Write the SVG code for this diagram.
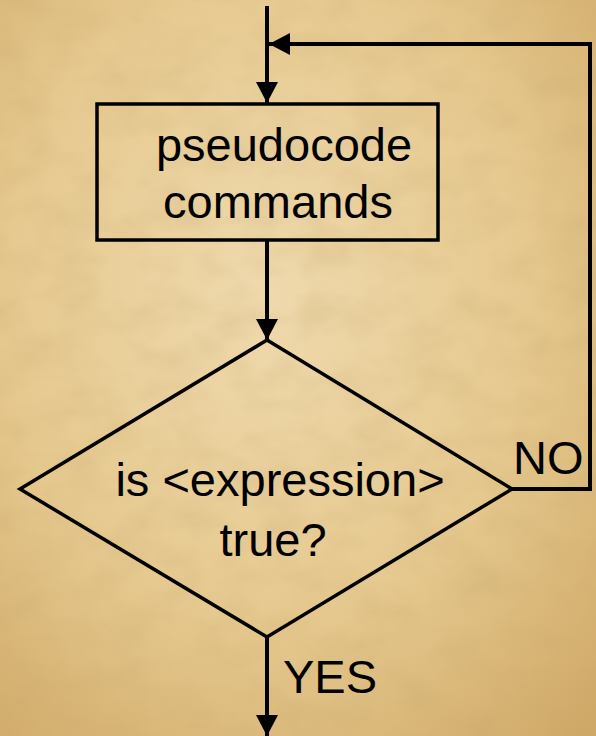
<svg xmlns="http://www.w3.org/2000/svg" width="596" height="736" viewBox="0 0 596 736">
  <defs>
    <radialGradient id="paper" cx="0.45" cy="0.4" r="0.8">
      <stop offset="0" stop-color="#efd9ad"/>
      <stop offset="0.55" stop-color="#e6c98f"/>
      <stop offset="1" stop-color="#cfa866"/>
    </radialGradient>
    <filter id="grain" x="0" y="0" width="100%" height="100%">
      <feTurbulence type="fractalNoise" baseFrequency="0.02 0.03" numOctaves="3" seed="7" result="n"/>
      <feColorMatrix in="n" type="matrix" values="0 0 0 0 0.55  0 0 0 0 0.38  0 0 0 0 0.15  0 0 0 0.9 -0.35"/>
    </filter>
    <marker id="arrow" markerWidth="22" markerHeight="22" refX="21" refY="11" orient="auto" markerUnits="userSpaceOnUse">
      <path d="M0,0 L21,11 L0,22 Z" fill="#000"/>
    </marker>
    <style>
      .shape { fill: none; stroke: #000; stroke-width: 3.5; }
      .wire { fill: none; stroke: #000; stroke-width: 4; }
      .label { font-family: "Liberation Sans", Arial, sans-serif; font-size: 47px; fill: #000; }
    </style>
  </defs>

  <!-- aged paper background -->
  <rect width="596" height="736" fill="url(#paper)"/>
  <rect width="596" height="736" filter="url(#grain)" opacity="0.5"/>

  <g id="connectors">
    <line class="wire" x1="267" y1="6" x2="267" y2="103" marker-end="url(#arrow)"/>
    <line class="wire" x1="267" y1="240" x2="267" y2="340" marker-end="url(#arrow)"/>
    <polyline class="wire" points="512,489 590,489 590,44 269,44" marker-end="url(#arrow)"/>
    <line class="wire" x1="267" y1="637" x2="267" y2="736" marker-end="url(#arrow)"/>
    <text class="label" x="513" y="474">NO</text>
    <text class="label" x="283" y="693">YES</text>
  </g>

  <g id="process">
    <rect class="shape" x="97" y="104" width="341" height="136"/>
    <text class="label" x="284" y="161" text-anchor="middle">pseudocode</text>
    <text class="label" x="278" y="218" text-anchor="middle">commands</text>
  </g>

  <g id="decision">
    <polygon class="shape" points="267,340 512,489 267,637 20,489"/>
    <text class="label" x="280" y="496" text-anchor="middle">is &lt;expression&gt;</text>
    <text class="label" x="273" y="556" text-anchor="middle">true?</text>
  </g>
</svg>
